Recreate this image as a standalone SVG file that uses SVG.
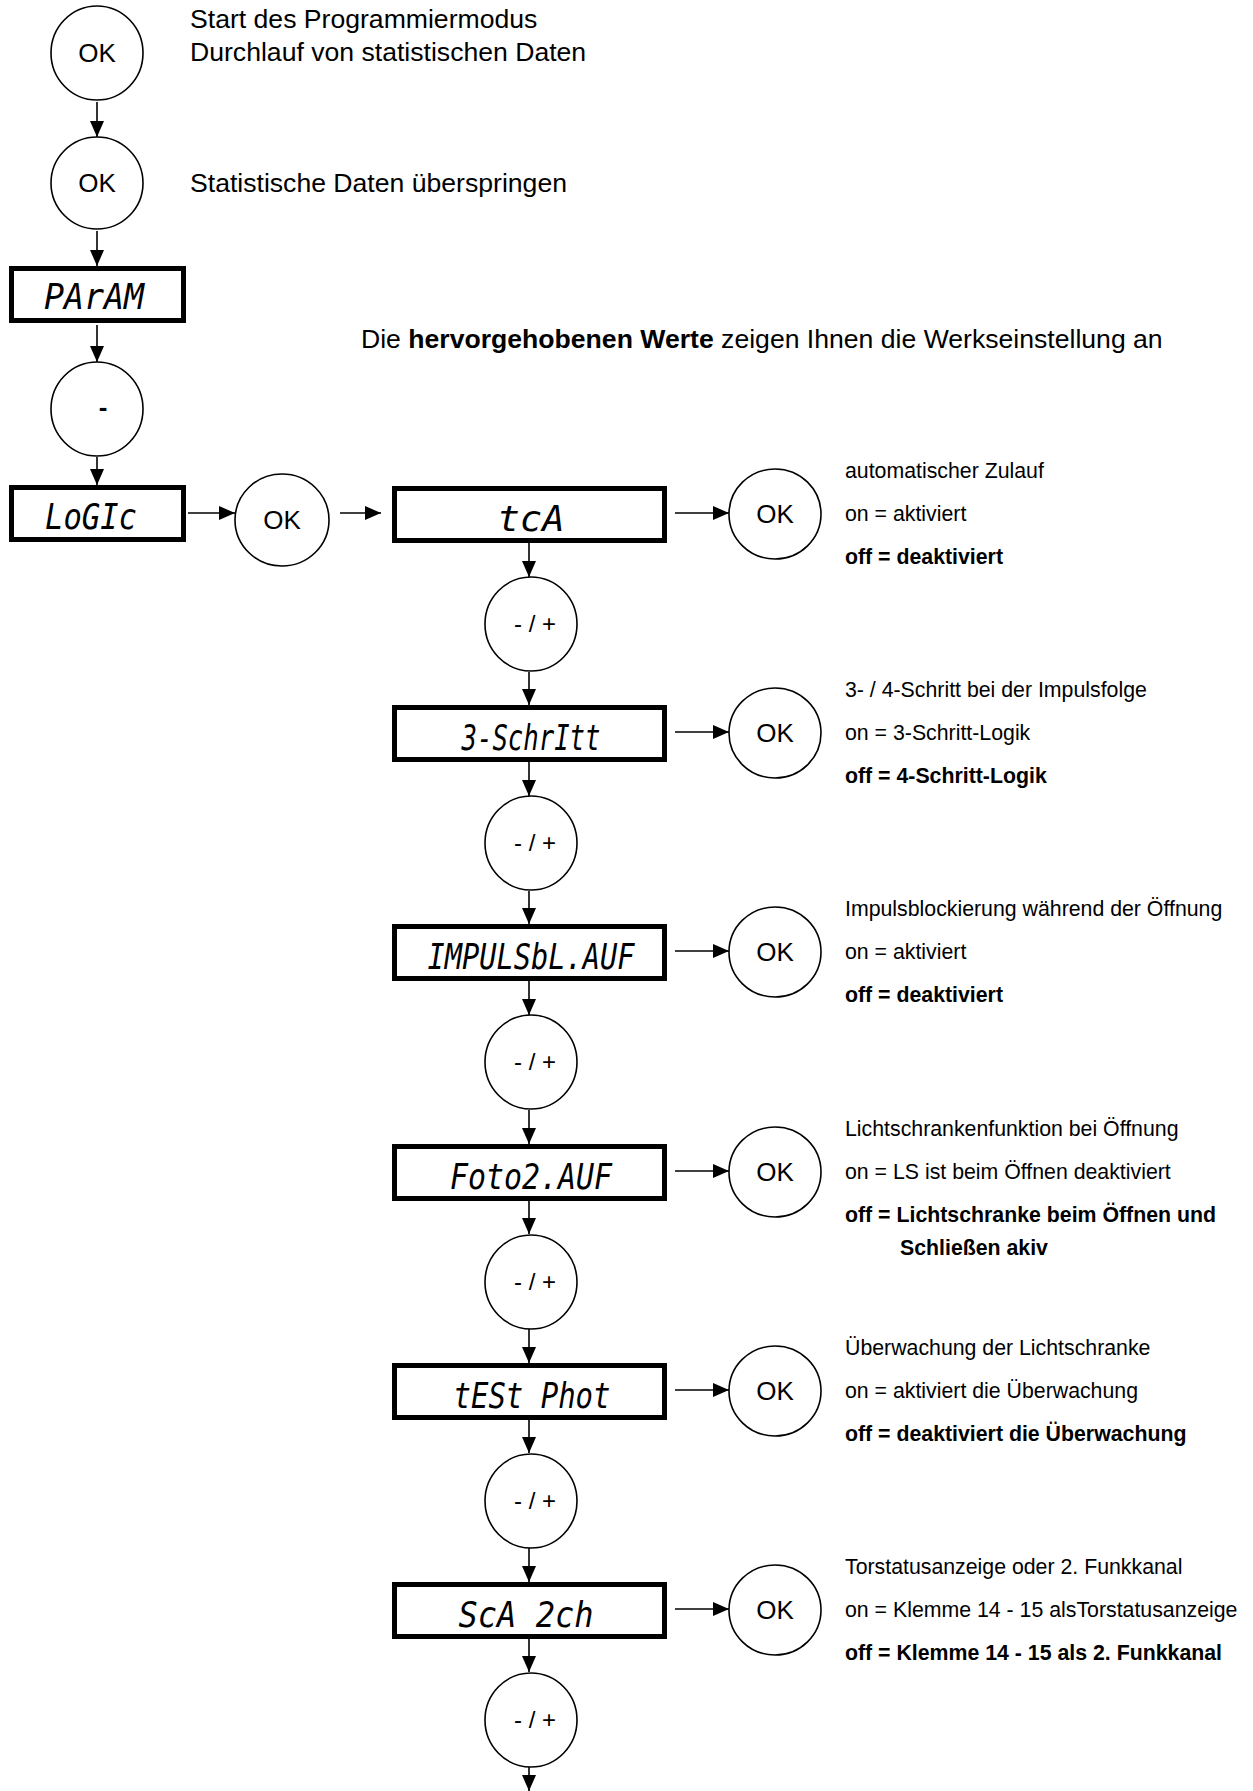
<svg xmlns="http://www.w3.org/2000/svg" width="1253" height="1791" viewBox="0 0 1253 1791">
<style>
.bg{fill:#fff}
.btn{fill:#fff;stroke:#000;stroke-width:1.6}
.lcd{fill:#fff;stroke:#000;stroke-width:5}
.lcdt{font-family:"DejaVu Sans Mono",monospace;font-style:oblique;font-size:36px;fill:#000;text-anchor:middle}
.bt{font-family:"Liberation Sans",Arial,sans-serif;font-size:26px;fill:#000;text-anchor:middle}
.pm{font-family:"Liberation Sans",Arial,sans-serif;font-size:24px;fill:#000;text-anchor:middle}
.big{font-family:"Liberation Sans",Arial,sans-serif;font-size:26.6px;fill:#000}
.sm{font-family:"Liberation Sans",Arial,sans-serif;font-size:21.3px;fill:#000}
.b{font-weight:bold}
.ln{stroke:#000;stroke-width:1.6;fill:none;marker-end:url(#ah)}
</style>
<defs>
<marker id="ah" markerUnits="userSpaceOnUse" markerWidth="16" markerHeight="14" refX="16" refY="7" orient="auto">
<path d="M0,0 L16,7 L0,14 z" fill="#000"/>
</marker>
</defs>
<rect class="bg" x="0" y="0" width="1253" height="1791"/>

<g id="connectors">
<line class="ln" x1="97" y1="102" x2="97" y2="137"/>
<line class="ln" x1="97" y1="231" x2="97" y2="266"/>
<line class="ln" x1="97" y1="325" x2="97" y2="362"/>
<line class="ln" x1="97" y1="457" x2="97" y2="485"/>
<line class="ln" x1="188" y1="513" x2="235" y2="513"/>
<line class="ln" x1="340" y1="513" x2="381" y2="513"/>
<line class="ln" x1="675" y1="513" x2="729" y2="513"/>
<line class="ln" x1="675" y1="732" x2="729" y2="732"/>
<line class="ln" x1="675" y1="951" x2="729" y2="951"/>
<line class="ln" x1="675" y1="1171" x2="729" y2="1171"/>
<line class="ln" x1="675" y1="1390" x2="729" y2="1390"/>
<line class="ln" x1="675" y1="1609" x2="729" y2="1609"/>
<line class="ln" x1="529" y1="543" x2="529" y2="577"/>
<line class="ln" x1="529" y1="672" x2="529" y2="705"/>
<line class="ln" x1="529" y1="762" x2="529" y2="796"/>
<line class="ln" x1="529" y1="891" x2="529" y2="924"/>
<line class="ln" x1="529" y1="981" x2="529" y2="1015"/>
<line class="ln" x1="529" y1="1110" x2="529" y2="1144"/>
<line class="ln" x1="529" y1="1201" x2="529" y2="1234"/>
<line class="ln" x1="529" y1="1329" x2="529" y2="1363"/>
<line class="ln" x1="529" y1="1420" x2="529" y2="1453"/>
<line class="ln" x1="529" y1="1548" x2="529" y2="1582"/>
<line class="ln" x1="529" y1="1639" x2="529" y2="1672"/>
<line class="ln" x1="529" y1="1767" x2="529" y2="1791"/>
</g>

<g id="ok-start">
<ellipse class="btn" cx="97" cy="53" rx="46" ry="47"/>
<text class="bt" x="97" y="62">OK</text>
</g>
<text class="big" x="190" y="28">Start des Programmiermodus</text>
<text class="big" x="190" y="61">Durchlauf von statistischen Daten</text>

<g id="ok-skip">
<ellipse class="btn" cx="97" cy="183" rx="46" ry="46"/>
<text class="bt" x="97" y="192">OK</text>
</g>
<text class="big" x="190" y="192">Statistische Daten überspringen</text>

<g id="param">
<rect class="lcd" x="11.5" y="268.5" width="172" height="52"/>
<text class="lcdt" x="94" y="309" textLength="100" lengthAdjust="spacingAndGlyphs">PArAM</text>
</g>

<text class="big" x="361" y="348">Die <tspan class="b">hervorgehobenen Werte</tspan> zeigen Ihnen die Werkseinstellung an</text>

<g id="minus">
<ellipse class="btn" cx="97" cy="409" rx="46" ry="47"/>
<text class="bt b" x="103" y="416">-</text>
</g>

<g id="logic">
<rect class="lcd" x="11.5" y="487.5" width="172" height="52"/>
<text class="lcdt" x="91" y="529" textLength="92" lengthAdjust="spacingAndGlyphs">LoGIc</text>
</g>

<g id="ok-logic">
<ellipse class="btn" cx="282" cy="520" rx="47" ry="46"/>
<text class="bt" x="282" y="529">OK</text>
</g>

<!-- step 1 -->
<g id="tca">
<rect class="lcd" x="394.5" y="488.5" width="270" height="52"/>
<text class="lcdt" x="531" y="531" textLength="67" lengthAdjust="spacingAndGlyphs">tcA</text>
</g>
<g id="ok-tca">
<ellipse class="btn" cx="775" cy="514" rx="46" ry="45"/>
<text class="bt" x="775" y="523">OK</text>
</g>
<g id="pm-tca">
<ellipse class="btn" cx="531" cy="624" rx="46" ry="47"/>
<text class="pm" x="535" y="632">- / +</text>
</g>
<text class="sm" x="845" y="478">automatischer Zulauf</text>
<text class="sm" x="845" y="521">on = aktiviert</text>
<text class="sm b" x="845" y="564">off = deaktiviert</text>

<!-- step 2 -->
<g id="schritt">
<rect class="lcd" x="394.5" y="707.5" width="270" height="52"/>
<text class="lcdt" x="531" y="750" textLength="139" lengthAdjust="spacingAndGlyphs">3-SchrItt</text>
</g>
<g id="ok-schritt">
<ellipse class="btn" cx="775" cy="733" rx="46" ry="45"/>
<text class="bt" x="775" y="742">OK</text>
</g>
<g id="pm-schritt">
<ellipse class="btn" cx="531" cy="843" rx="46" ry="47"/>
<text class="pm" x="535" y="851">- / +</text>
</g>
<text class="sm" x="845" y="697">3- / 4-Schritt bei der Impulsfolge</text>
<text class="sm" x="845" y="740">on = 3-Schritt-Logik</text>
<text class="sm b" x="845" y="783">off = 4-Schritt-Logik</text>

<!-- step 3 -->
<g id="impuls">
<rect class="lcd" x="394.5" y="926.5" width="270" height="52"/>
<text class="lcdt" x="531" y="969" textLength="207" lengthAdjust="spacingAndGlyphs">IMPULSbL.AUF</text>
</g>
<g id="ok-impuls">
<ellipse class="btn" cx="775" cy="952" rx="46" ry="45"/>
<text class="bt" x="775" y="961">OK</text>
</g>
<g id="pm-impuls">
<ellipse class="btn" cx="531" cy="1062" rx="46" ry="47"/>
<text class="pm" x="535" y="1070">- / +</text>
</g>
<text class="sm" x="845" y="916">Impulsblockierung während der Öffnung</text>
<text class="sm" x="845" y="959">on = aktiviert</text>
<text class="sm b" x="845" y="1002">off = deaktiviert</text>

<!-- step 4 -->
<g id="foto">
<rect class="lcd" x="394.5" y="1146.5" width="270" height="52"/>
<text class="lcdt" x="531" y="1189" textLength="162" lengthAdjust="spacingAndGlyphs">Foto2.AUF</text>
</g>
<g id="ok-foto">
<ellipse class="btn" cx="775" cy="1172" rx="46" ry="45"/>
<text class="bt" x="775" y="1181">OK</text>
</g>
<g id="pm-foto">
<ellipse class="btn" cx="531" cy="1282" rx="46" ry="47"/>
<text class="pm" x="535" y="1290">- / +</text>
</g>
<text class="sm" x="845" y="1136">Lichtschrankenfunktion bei Öffnung</text>
<text class="sm" x="845" y="1179">on = LS ist beim Öffnen deaktiviert</text>
<text class="sm b" x="845" y="1222">off = Lichtschranke beim Öffnen und</text>
<text class="sm b" x="900" y="1255">Schließen akiv</text>

<!-- step 5 -->
<g id="test">
<rect class="lcd" x="394.5" y="1365.5" width="270" height="52"/>
<text class="lcdt" x="532" y="1408" textLength="157" lengthAdjust="spacingAndGlyphs">tESt Phot</text>
</g>
<g id="ok-test">
<ellipse class="btn" cx="775" cy="1391" rx="46" ry="45"/>
<text class="bt" x="775" y="1400">OK</text>
</g>
<g id="pm-test">
<ellipse class="btn" cx="531" cy="1501" rx="46" ry="47"/>
<text class="pm" x="535" y="1509">- / +</text>
</g>
<text class="sm" x="845" y="1355">Überwachung der Lichtschranke</text>
<text class="sm" x="845" y="1398">on = aktiviert die Überwachung</text>
<text class="sm b" x="845" y="1441">off = deaktiviert die Überwachung</text>

<!-- step 6 -->
<g id="sca">
<rect class="lcd" x="394.5" y="1584.5" width="270" height="52"/>
<text class="lcdt" x="526" y="1627" textLength="135" lengthAdjust="spacingAndGlyphs">ScA 2ch</text>
</g>
<g id="ok-sca">
<ellipse class="btn" cx="775" cy="1610" rx="46" ry="45"/>
<text class="bt" x="775" y="1619">OK</text>
</g>
<g id="pm-sca">
<ellipse class="btn" cx="531" cy="1720" rx="46" ry="47"/>
<text class="pm" x="535" y="1728">- / +</text>
</g>
<text class="sm" x="845" y="1574">Torstatusanzeige oder 2. Funkkanal</text>
<text class="sm" x="845" y="1617">on = Klemme 14 - 15 alsTorstatusanzeige</text>
<text class="sm b" x="845" y="1660">off = Klemme 14 - 15 als 2. Funkkanal</text>
</svg>
